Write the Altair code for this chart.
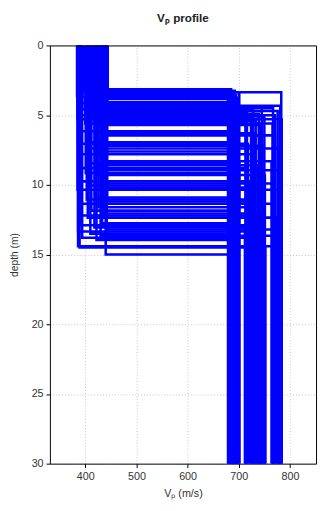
import altair as alt
import pandas as pd

# Monte-Carlo two-layer Vp profiles: top-layer velocity, interface depth, half-space velocity
v1 = [412, 388, 431, 395, 444, 403, 420, 384, 437, 409, 426, 392, 441, 415, 399, 433, 386, 422,
      406, 439, 393, 428, 411, 385, 417, 443, 400, 425,
      389, 421, 436, 404, 386, 432, 411, 424, 393, 441, 407, 419, 387, 434, 401, 423, 390, 438,
      409, 431, 385, 420, 403, 443, 392, 426, 412, 436, 388, 405, 433, 391, 418, 442, 386, 410,
      430, 394, 422, 386, 389, 440]
h = [3.15, 3.25, 3.35, 3.35, 3.35, 3.45, 3.55, 3.65, 3.75, 3.82, 4.05, 4.15, 4.25, 4.33, 4.42,
     4.5, 4.6, 4.7, 4.8, 4.9, 5.0, 5.1, 5.2, 5.3, 5.4, 5.5, 5.6, 5.7,
     6.15, 6.3, 6.45, 6.95, 7.05, 7.2, 7.4, 7.6, 7.8, 8.3, 8.45, 8.6, 8.8, 8.95, 9.15, 9.3,
     9.75, 9.9, 10.05, 10.2, 10.35, 10.9, 11.05, 11.2, 11.35, 11.6, 11.85, 12.05, 12.2, 12.35,
     12.75, 12.9, 13.05, 13.2, 13.35, 13.5, 13.65, 13.8, 13.95, 14.4, 14.5, 15.0]
v2 = [685, 692, 783, 701, 679, 688, 695, 682, 698, 690, 687, 694, 680, 781, 745, 767, 728, 776,
      716, 739, 771, 750, 724, 784, 733, 713, 766, 742,
      684, 732, 771, 697, 718, 746, 779, 690, 726, 764, 701, 738, 714, 783, 681, 751, 722, 769,
      694, 741, 777, 686, 730, 715, 767, 748, 698, 735, 720, 774, 689, 744, 712, 780, 727, 683,
      768, 737, 696, 778, 752, 680]
max_depth = 30

x_ticks = [400, 500, 600, 700, 800]
y_ticks = [0, 5, 10, 15, 20, 25, 30]

rows = []
for i, (a, d, b) in enumerate(zip(v1, h, v2)):
    rows += [
        {"id": i, "o": 0, "vp": a, "depth": 0},
        {"id": i, "o": 1, "vp": a, "depth": d},
        {"id": i, "o": 2, "vp": b, "depth": d},
        {"id": i, "o": 3, "vp": b, "depth": max_depth},
    ]
df = pd.DataFrame(rows)

FONT = "Liberation Sans"
xscale = alt.Scale(domain=[331, 851], nice=False, zero=False)
yscale = alt.Scale(domain=[0, 30], reverse=True, nice=False, zero=False)

lines = alt.Chart(df).mark_line(color="#0000ff", strokeWidth=2.6, clip=True).encode(
    x=alt.X("vp:Q", scale=xscale,
            axis=alt.Axis(values=x_ticks, title="Vₚ (m/s)", titlePadding=7)),
    y=alt.Y("depth:Q", scale=yscale,
            axis=alt.Axis(values=y_ticks, title="depth (m)", titlePadding=12,
                          titleFontSize=10.5)),
    detail="id:N",
    order="o:Q",
)

# invisible layer that only carries the top and right frame lines of the box
frame = alt.Chart(df).mark_line(opacity=0).encode(
    x=alt.X("vp:Q", scale=xscale,
            axis=alt.Axis(orient="top", labels=False, ticks=False, grid=False,
                          title=None, domainColor="black", zindex=2)),
    y=alt.Y("depth:Q", scale=yscale,
            axis=alt.Axis(orient="right", labels=False, ticks=False, grid=False,
                          title=None, domainColor="black", zindex=2)),
    detail="id:N",
    order="o:Q",
)

chart = alt.layer(lines, frame).resolve_axis(
    x="independent", y="independent"
).properties(
    width=273,
    height=429,
    autosize=alt.AutoSizeParams(type="none"),
    padding={"left": 43, "top": 32, "right": 2, "bottom": 36},
    title=alt.TitleParams("Vₚ profile", font=FONT, fontSize=12, fontWeight="bold",
                          color="#222", anchor="middle", offset=15),
).configure_view(
    stroke=None
).configure_axis(
    grid=True, gridDash=[1, 2], gridColor="#c4c4c4", gridWidth=1,
    domainColor="black", tickColor="black", tickSize=4,
    labelFont=FONT, labelFontSize=11, labelColor="#333",
    titleFont=FONT, titleFontSize=11, titleFontWeight="normal", titleColor="#333",
    labelPadding=3,
)

chart.save("out.html", embed_options={"renderer": "svg", "actions": False})
